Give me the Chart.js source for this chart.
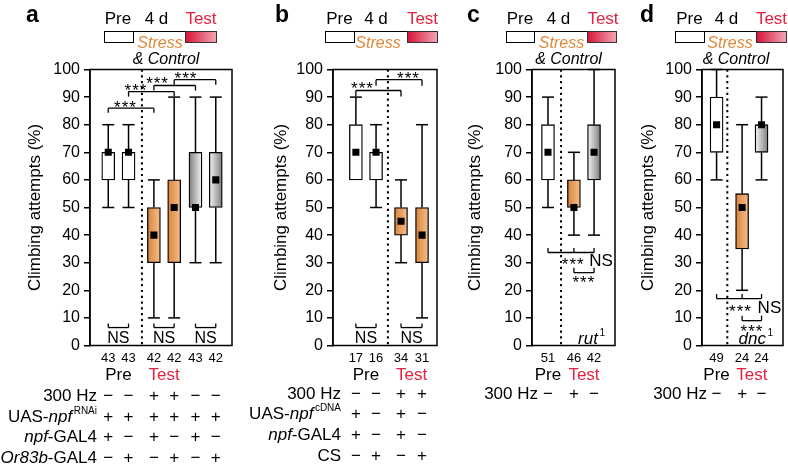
<!DOCTYPE html>
<html>
<head>
<meta charset="utf-8">
<title>Climbing attempts</title>
<script src="https://cdn.jsdelivr.net/npm/chart.js@4.4.1/dist/chart.umd.min.js"></script>
<style>
  html, body { margin: 0; padding: 0; background: #fff; }
  #fig { position: relative; width: 788px; height: 467px; overflow: hidden;
         font-family: "Liberation Sans", Arial, Helvetica, sans-serif; color: #000; }
  #fig canvas { position: absolute; top: 0; }
  .t { position: absolute; white-space: nowrap; line-height: 1; font-size: 17px; }
  .sup { position: relative; font-size: 10px; top: -8px; margin-left: 1.5px; }
  .red { color: #e2233f; }
  .org { color: #e0883a; font-style: italic; }
  .blk { position: absolute; box-sizing: border-box; }
</style>
</head>
<body>
<div id="fig"></div>
<script>
// ---- values (box: min / q1 / mean / q3 / max, n per box) ----
const nA = [43, 43, 42, 42, 43, 42];
const minA = [50, 50, 10, 10, 30, 30];
const q1A = [60, 60, 30, 30, 50, 50];
const meanA = [70, 70, 40, 50, 50, 60];
const q3A = [70, 70, 50, 60, 70, 70];
const maxA = [80, 80, 60, 90, 90, 90];

const nB = [17, 16, 34, 31];
const minB = [60, 50, 30, 10];
const q1B = [60, 60, 40, 30];
const meanB = [70, 70, 45, 40];
const q3B = [80, 70, 50, 50];
const maxB = [90, 80, 60, 80];

const nC = [51, 46, 42];
const minC = [50, 40, 40];
const q1C = [60, 50, 60];
const meanC = [70, 50, 70];
const q3C = [80, 60, 80];
const maxC = [90, 70, 100];

const nD = [49, 24, 24];
const minD = [60, 20, 60];
const q1D = [70, 35, 70];
const meanD = [80, 50, 80];
const q3D = [90, 55, 80];
const maxD = [100, 80, 90];

// genotype / treatment rows
const hzA = ['−', '−', '+', '+', '−', '−'];
const uasRnaiA = ['+', '+', '+', '+', '+', '+'];
const npfGalA = ['+', '−', '+', '−', '+', '−'];
const or83bA = ['−', '+', '−', '+', '−', '+'];
const hzB = ['−', '−', '+', '+'];
const uasCdnaB = ['+', '−', '+', '−'];
const npfGalB = ['+', '−', '+', '−'];
const csB = ['−', '+', '−', '+'];
const hzC = ['−', '+', '−'];
const hzD = ['−', '+', '−'];

const yTickStep = 10;
const yLabel = 'Climbing attempts (%)';

// ---- drawing helpers ----
const FONT = '"Liberation Sans", Arial, Helvetica, sans-serif';
Chart.defaults.font.family = FONT;
Chart.defaults.color = '#000';

const fig = document.getElementById('fig');

function put(html, x, y, opt = {}) {
  const d = document.createElement('div');
  d.className = 't' + (opt.cls ? ' ' + opt.cls : '');
  d.innerHTML = html;
  d.style.left = x + 'px';
  d.style.top = y + 'px';
  const tx = opt.align === 'r' ? '-100%' : opt.align === 'l' ? '0' : '-50%';
  d.style.transform = `translate(${tx},-50%)`;
  if (opt.size) d.style.fontSize = opt.size + 'px';
  if (opt.css) d.style.cssText += opt.css;
  fig.appendChild(d);
}

function block(x0, x1, y, h, css) {
  const d = document.createElement('div');
  d.className = 'blk';
  d.style.cssText += `left:${x0}px;top:${y}px;width:${x1 - x0}px;height:${h}px;` + css;
  fig.appendChild(d);
}

function seg(ctx, x0, y0, x1, y1) {
  ctx.beginPath();
  ctx.moveTo(x0, y0);
  ctx.lineTo(x1, y1);
  ctx.stroke();
}

const FILLS = {
  w: '#ffffff',
  o: ['#d9843c', '#f6bf8d'],
  gL: ['#7d7d7d', '#f5f5f5'],
  gR: ['#f5f5f5', '#7d7d7d']
};

function boxFill(pos, kinds) {
  return c => {
    const f = FILLS[kinds[c.dataIndex]];
    if (!f) return '#fff';
    if (!Array.isArray(f)) return f;
    const xs = c.chart.scales.x;
    if (!xs) return f[0];
    const px = xs.getPixelForValue(pos[c.dataIndex]);
    const g = c.chart.ctx.createLinearGradient(px - 6.5, 0, px + 6.5, 0);
    g.addColorStop(0, f[0]);
    g.addColorStop(1, f[1]);
    return g;
  };
}

// whiskers, divider, frame and significance brackets, all placed through the scales
const boxExtras = {
  id: 'boxExtras',
  beforeDatasetsDraw(chart, args, o) {
    const {ctx, chartArea: a, scales: {x, y}} = chart;
    ctx.save();
    ctx.strokeStyle = '#000';
    ctx.lineWidth = 2;
    ctx.setLineDash([2.2, 3.6]);
    const dx = x.getPixelForValue(o.divider);
    seg(ctx, dx, a.top, dx, a.bottom);
    ctx.setLineDash([]);
    ctx.lineWidth = 1.5;
    o.pos.forEach((p, i) => {
      const px = x.getPixelForValue(p);
      [[o.max[i], o.q3[i]], [o.min[i], o.q1[i]]].forEach(([end, edge]) => {
        if (end === edge) return;
        const ye = y.getPixelForValue(end);
        seg(ctx, px, ye, px, y.getPixelForValue(edge));
        seg(ctx, px - 6, ye, px + 6, ye);
      });
    });
    ctx.restore();
  },
  afterDatasetsDraw(chart, args, o) {
    const {ctx, chartArea: a, scales: {x, y}} = chart;
    ctx.save();
    ctx.strokeStyle = '#000';
    ctx.fillStyle = '#000';
    ctx.lineWidth = 1.5;
    ctx.strokeRect(a.left, a.top, a.right - a.left, a.bottom - a.top);
    ctx.lineWidth = 1.3;
    o.brackets.forEach(b => {
      const xs = b.at.map(i => x.getPixelForValue(o.pos[i]));
      const yl = y.getPixelForValue(b.y);
      seg(ctx, xs[0], yl, xs[xs.length - 1], yl);
      xs.forEach(px => seg(ctx, px, yl, px, yl + b.tick));
      b.labels.forEach(l => {
        const star = l.t === '***';
        const size = l.size || (star ? 17 : 16);
        ctx.font = `${size}px ${FONT}`;
        ctx.letterSpacing = star ? '1px' : '0px';
        ctx.textAlign = 'center';
        ctx.textBaseline = 'alphabetic';
        const lx = l.x !== undefined ? x.getPixelForValue(l.x) : (xs[0] + xs[xs.length - 1]) / 2;
        ctx.fillText(l.t, lx, yl + l.dy + size * (star ? 0.57 : 0.36));
      });
    });
    ctx.restore();
  }
};

// ---- panel layout ----
const panels = [
  {
    letter: 'a', letterX: 26, left: 0, width: 240, axisW: 90, padR: 8, titlePad: 24.8, xmax: 7,
    pos: [0.9, 1.9, 3.15, 4.15, 5.2, 6.2], divider: 2.56,
    n: nA, min: minA, q1: q1A, mean: meanA, q3: q3A, max: maxA,
    fill: ['w', 'w', 'o', 'o', 'gL', 'gR'],
    brackets: [
      {at: [0, 2], y: 86, tick: 4.5, labels: [{t: '***', x: 1.75, dy: -5}]},
      {at: [1, 3], y: 92, tick: 5, labels: [{t: '***', x: 2.27, dy: -5.5}]},
      {at: [2, 4], y: 94.2, tick: 5, labels: [{t: '***', x: 3.33, dy: -6}]},
      {at: [3, 5], y: 96.3, tick: 5, labels: [{t: '***', x: 4.73, dy: -5.5}]},
      {at: [0, 1], y: 6.5, tick: -4, labels: [{t: 'NS', dy: 10}]},
      {at: [2, 3], y: 6.5, tick: -4, labels: [{t: 'NS', dy: 10}]},
      {at: [4, 5], y: 6.5, tick: -4, labels: [{t: 'NS', dy: 10}]}
    ],
    pre: [0, 1], test: [2, 3],
    head: {pre: 118, four: 156.5, test: 201, stress: 160, control: 166, white: [104, 134], red: [185, 217]},
    labelR: 97,
    rows: [
      ['300 Hz', hzA, 395],
      ['UAS-<i>npf</i><span class="sup">RNAi</span>', uasRnaiA, 415.5],
      ['<i>npf</i>-GAL4', npfGalA, 436],
      ['<i>Or83b</i>-GAL4', or83bA, 457]
    ]
  },
  {
    letter: 'b', letterX: 275, left: 240, width: 205, axisW: 93, padR: 8, titlePad: 30.8, xmax: 5,
    pos: [1.1, 2.07, 3.27, 4.28], divider: 2.64,
    n: nB, min: minB, q1: q1B, mean: meanB, q3: q3B, max: maxB,
    fill: ['w', 'w', 'o', 'o'],
    brackets: [
      {at: [0, 2], y: 92.4, tick: 6, labels: [{t: '***', x: 1.42, dy: -6}]},
      {at: [1, 3], y: 96.3, tick: 6, labels: [{t: '***', x: 3.63, dy: -5}]},
      {at: [0, 1], y: 6.5, tick: -4, labels: [{t: 'NS', dy: 10}]},
      {at: [2, 3], y: 6.5, tick: -4, labels: [{t: 'NS', dy: 10}]}
    ],
    pre: [0, 1], test: [2, 3],
    head: {pre: 339.5, four: 376, test: 422.5, stress: 378, control: null, white: [325, 355], red: [407, 438]},
    labelR: 341,
    rows: [
      ['300 Hz', hzB, 392.5],
      ['UAS-<i>npf</i><span class="sup">cDNA</span>', uasCdnaB, 413],
      ['<i>npf</i>-GAL4', npfGalB, 434],
      ['CS', csB, 455]
    ]
  },
  {
    letter: 'c', letterX: 467, left: 445, width: 175, axisW: 87, padR: 5, titlePad: 19.8, xmax: 4,
    pos: [0.77, 2.02, 2.99], divider: 1.4,
    n: nC, min: minC, q1: q1C, mean: meanC, q3: q3C, max: maxC,
    fill: ['w', 'o', 'gR'],
    brackets: [
      {at: [0, 1, 2], y: 33.7, tick: -4.5, labels: [{t: '***', x: 1.99, dy: 8}, {t: 'NS', x: 3.33, dy: 7, size: 17}]},
      {at: [1, 2], y: 26.4, tick: -5, labels: [{t: '***', x: 2.5, dy: 6}]}
    ],
    pre: [0], test: [1, 2],
    head: {pre: 520, four: 558.5, test: 603, stress: 561.5, control: 568.5, white: [506, 535], red: [587, 617]},
    labelR: 538,
    rows: [['300 Hz', hzC, 393]],
    note: ['<i>rut</i><span class="sup">1</span>', 605, 338]
  },
  {
    letter: 'd', letterX: 640, left: 620, width: 168, axisW: 82, padR: 3, titlePad: 17.8, xmax: 4,
    pos: [0.72, 1.98, 2.94], divider: 1.25,
    n: nD, min: minD, q1: q1D, mean: meanD, q3: q3D, max: maxD,
    fill: ['w', 'o', 'gR'],
    brackets: [
      {at: [0, 1, 2], y: 17, tick: -4.5, labels: [{t: '***', x: 1.9, dy: 8.5}, {t: 'NS', x: 3.33, dy: 8.5, size: 17}]},
      {at: [1, 2], y: 9, tick: -5, labels: [{t: '***', x: 2.47, dy: 6.5}]}
    ],
    pre: [0], test: [1, 2],
    head: {pre: 689.5, four: 726.5, test: 771.5, stress: 730, control: 736, white: [675, 705], red: [756, 787]},
    labelR: 707,
    rows: [['300 Hz', hzD, 393]],
    note: ['<i>dnc</i><span class="sup">1</span>', 773, 338]
  }
];

panels.forEach(p => {
  const cv = document.createElement('canvas');
  cv.width = p.width;
  cv.height = 467;
  cv.style.left = p.left + 'px';
  fig.appendChild(cv);

  const chart = new Chart(cv, {
    type: 'bar',
    data: {
      datasets: [
        {
          type: 'scatter',
          data: p.pos.map((x, i) => ({x, y: p.mean[i]})),
          pointStyle: 'rect',
          pointRadius: 5,
          backgroundColor: '#000',
          borderWidth: 0,
          order: 0
        },
        {
          type: 'bar',
          data: p.pos.map((x, i) => ({x, y: [p.q1[i], p.q3[i]]})),
          backgroundColor: boxFill(p.pos, p.fill),
          borderColor: '#000',
          borderWidth: 1.3,
          borderSkipped: false,
          barThickness: 13,
          order: 2
        }
      ]
    },
    options: {
      responsive: false,
      animation: false,
      events: [],
      layout: {padding: {left: 0, right: p.padR, top: 69.5, bottom: 121.5}},
      plugins: {
        legend: {display: false},
        tooltip: {enabled: false},
        boxExtras: {pos: p.pos, divider: p.divider, min: p.min, q1: p.q1, q3: p.q3, max: p.max, brackets: p.brackets}
      },
      scales: {
        x: {type: 'linear', display: false, min: 0, max: p.xmax, offset: false},
        y: {
          min: 0, max: 100,
          afterFit: s => { s.width = p.axisW; },
          ticks: {stepSize: yTickStep, autoSkip: false, padding: 4, font: {size: 16}, color: '#000'},
          grid: {display: true, drawOnChartArea: false, drawTicks: true, tickLength: 6, color: '#000', lineWidth: 1.5},
          border: {display: true, color: '#000', width: 1.5},
          title: {display: true, text: yLabel, color: '#000', font: {size: 17}, padding: {top: p.titlePad, bottom: 0}}
        }
      }
    },
    plugins: [boxExtras]
  });

  const xs = chart.scales.x;
  const colX = p.pos.map(v => p.left + xs.getPixelForValue(v));
  const mid = idx => idx.reduce((s, i) => s + colX[i], 0) / idx.length;

  // header: protocol timeline
  put(p.letter, p.letterX, 14, {align: 'l', size: 23, css: 'font-weight:bold;'});
  put('Pre', p.head.pre, 18);
  put('4 d', p.head.four, 18);
  put('Test', p.head.test, 18, {cls: 'red'});
  block(p.head.white[0], p.head.white[1], 31, 11.5, 'background:#fff;border:1.3px solid #000;');
  block(p.head.white[1], p.head.red[0], 31, 1.3, 'background:#000;');
  block(p.head.red[0], p.head.red[1], 31, 11.5, 'background:linear-gradient(to right,#d6163a,#f4a3b1);border:1px solid #333;');
  put('Stress', p.head.stress, 42.5, {cls: 'org', size: 16});
  if (p.head.control) put('<i>&amp; Control</i>', p.head.control, 58.5, {size: 16});

  // n per box, group labels and treatment table
  p.n.forEach((v, i) => put(String(v), colX[i], 357, {size: 13}));
  put('Pre', mid(p.pre), 374);
  put('Test', mid(p.test), 374, {cls: 'red'});
  p.rows.forEach(([label, marks, y]) => {
    put(label, p.labelR, y, {align: 'r'});
    marks.forEach((m, i) => put(m, colX[i], y));
  });
  if (p.note) put(p.note[0], p.note[1], p.note[2], {align: 'r'});
});
</script>
</body>
</html>
